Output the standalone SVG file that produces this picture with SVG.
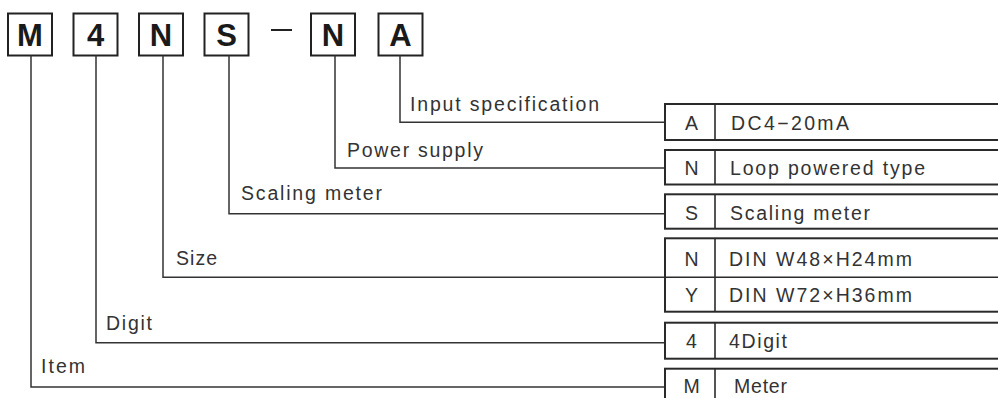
<svg xmlns="http://www.w3.org/2000/svg" width="998" height="398" viewBox="0 0 998 398">
<style>
.box{fill:#fff;stroke:#222;stroke-width:2}
.code{font-family:"Liberation Sans",Arial,sans-serif;font-weight:bold;font-size:31px;fill:#1a1a1a;text-anchor:middle}
.lbl{font-family:"Liberation Sans",Arial,sans-serif;font-size:19.5px;fill:#333}
.cc{font-family:"Liberation Sans",Arial,sans-serif;font-size:19.5px;fill:#333;text-anchor:middle}
.row{fill:#fff;stroke:#2a2a2a;stroke-width:2}
.div{stroke:#2a2a2a;stroke-width:1.6}
.con{fill:none;stroke:#333;stroke-width:1.5}
</style>
<rect width="998" height="398" fill="#fff"/>
<g id="code">
  <g id="code-M"><rect class="box" x="8" y="13.5" width="44" height="42"/><text class="code" x="30" y="46">M</text></g>
  <g id="code-4"><rect class="box" x="73.5" y="13.5" width="44" height="42"/><text class="code" x="95.5" y="46">4</text></g>
  <g id="code-N"><rect class="box" x="139" y="13.5" width="44" height="42"/><text class="code" x="161" y="46">N</text></g>
  <g id="code-S"><rect class="box" x="204.5" y="13.5" width="44" height="42"/><text class="code" x="226.5" y="46">S</text></g>
  <g id="code-dash"><line x1="271" y1="30" x2="292" y2="30" stroke="#222" stroke-width="2"/></g>
  <g id="code-N2"><rect class="box" x="311" y="13.5" width="44" height="42"/><text class="code" x="333" y="46">N</text></g>
  <g id="code-A"><rect class="box" x="378.5" y="13.5" width="44" height="42"/><text class="code" x="400.5" y="46">A</text></g>
</g>
<g id="connectors">
  <polyline class="con" points="400,55.5 400,122.3 665,122.3"/>
  <polyline class="con" points="335,55.5 335,168 665,168"/>
  <polyline class="con" points="229,55.5 229,213.7 665,213.7"/>
  <polyline class="con" points="163,55.5 163,277.3 665,277.3"/>
  <polyline class="con" points="96,55.5 96,342.7 665,342.7"/>
  <polyline class="con" points="31,55.5 31,387 665,387"/>
</g>
<g id="labels">
  <text class="lbl" x="410" y="111" textLength="189" lengthAdjust="spacing">Input specification</text>
  <text class="lbl" x="347" y="157" textLength="136" lengthAdjust="spacing">Power supply</text>
  <text class="lbl" x="241" y="200" textLength="141" lengthAdjust="spacing">Scaling meter</text>
  <text class="lbl" x="176" y="265" textLength="41" lengthAdjust="spacing">Size</text>
  <text class="lbl" x="106" y="330" textLength="46" lengthAdjust="spacing">Digit</text>
  <text class="lbl" x="41" y="373" textLength="44" lengthAdjust="spacing">Item</text>
</g>
<g id="table">
  <g id="opt-A"><rect class="row" x="665" y="104" width="340" height="36"/><line class="div" x1="715" y1="104" x2="715" y2="140"/><text class="cc" x="691.5" y="130">A</text><text class="lbl" x="731" y="130" textLength="118" lengthAdjust="spacing">DC4−20mA</text></g>
  <g id="opt-N"><rect class="row" x="665" y="150" width="340" height="34.5"/><line class="div" x1="715" y1="150" x2="715" y2="184.5"/><text class="cc" x="691.5" y="175">N</text><text class="lbl" x="730" y="175" textLength="195" lengthAdjust="spacing">Loop powered type</text></g>
  <g id="opt-S"><rect class="row" x="665" y="194.3" width="340" height="34.4"/><line class="div" x1="715" y1="194.3" x2="715" y2="228.7"/><text class="cc" x="691.5" y="219.5">S</text><text class="lbl" x="730" y="219.5" textLength="140" lengthAdjust="spacing">Scaling meter</text></g>
  <g id="opt-size"><rect class="row" x="665" y="238.3" width="340" height="73.4"/><line class="div" x1="715" y1="238.3" x2="715" y2="311.7"/><line class="div" x1="665" y1="277.3" x2="1000" y2="277.3"/><text class="cc" x="691.5" y="265.7">N</text><text class="lbl" x="729" y="265.7" textLength="183" lengthAdjust="spacing">DIN W48×H24mm</text><text class="cc" x="691.5" y="301.7">Y</text><text class="lbl" x="729" y="301.7" textLength="183" lengthAdjust="spacing">DIN W72×H36mm</text></g>
  <g id="opt-4"><rect class="row" x="665" y="322.7" width="340" height="36"/><line class="div" x1="715" y1="322.7" x2="715" y2="358.7"/><text class="cc" x="691.5" y="347.7">4</text><text class="lbl" x="729" y="347.7" textLength="58" lengthAdjust="spacing">4Digit</text></g>
  <g id="opt-M"><rect class="row" x="665" y="368.7" width="340" height="40"/><line class="div" x1="715" y1="368.7" x2="715" y2="400"/><text class="cc" x="691.5" y="393">M</text><text class="lbl" x="734" y="393" textLength="53" lengthAdjust="spacing">Meter</text></g>
</g>
</svg>
